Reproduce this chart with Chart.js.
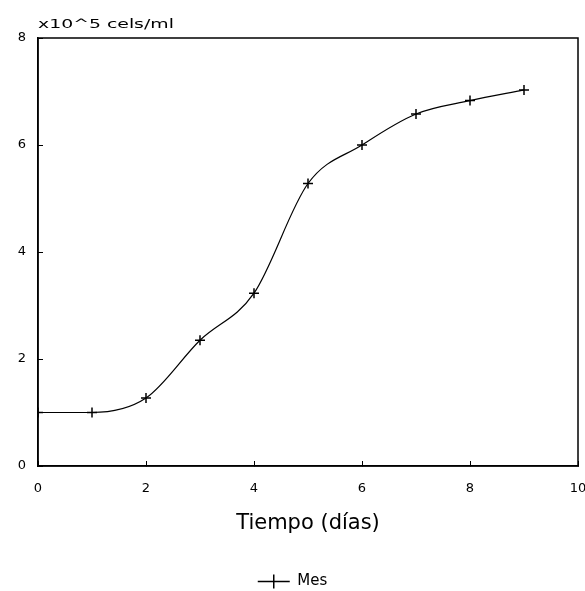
<!DOCTYPE html>
<html><head><meta charset="utf-8">
<script src="https://cdn.jsdelivr.net/npm/chart.js@4/dist/chart.umd.min.js"></script>
<style>html,body{margin:0;padding:0;background:#fff}#wrap{width:585px;height:591px}</style>
</head><body><div id="wrap"><canvas id="c" width="585" height="591"></canvas></div>
<script>
const days = [0, 1, 2, 3, 4, 5, 6, 7, 8, 9];
const cells = [1.0, 1.0, 1.27, 2.35, 3.23, 5.28, 6.0, 6.58, 6.83, 7.03];
const xTicks = [0, 2, 4, 6, 8, 10];
const yTicks = [0, 2, 4, 6, 8];
const seriesName = 'Mes';
const yUnit = 'x10^5 cels/ml';
const xTitle = 'Tiempo (días)';

const frame = {
  id: 'frame',
  afterDraw(chart) {
    const {ctx, chartArea: a} = chart;
    ctx.save();
    ctx.strokeStyle = '#000';
    ctx.lineWidth = 1.5;
    ctx.strokeRect(a.left, a.top, a.right - a.left, a.bottom - a.top);
    ctx.fillStyle = '#000';
    ctx.font = '13px "DejaVu Sans", sans-serif';
    ctx.textBaseline = 'alphabetic';
    ctx.textAlign = 'left';
    ctx.translate(a.left, a.top - 10);
    ctx.scale(1.45, 1);
    ctx.fillText(yUnit, 0, 0);
    ctx.restore();
  }
};

new Chart(document.getElementById('c'), {
  type: 'line',
  data: {
    datasets: [{
      label: seriesName,
      data: days.map((d, i) => ({x: d, y: cells[i]})),
      borderColor: '#000',
      backgroundColor: '#000',
      borderWidth: 1.2,
      tension: 0.4,
      cubicInterpolationMode: 'monotone',
      pointStyle: 'cross',
      pointRadius: 5,
      pointBorderWidth: 1.5,
      pointBorderColor: '#000'
    }]
  },
  options: {
    responsive: false,
    animation: false,
    layout: {padding: {left: 0, right: 0, top: 38, bottom: -8}},
    plugins: {
      legend: {
        position: 'bottom',
        labels: {
          color: '#000',
          font: {size: 15, family: '"DejaVu Sans", sans-serif'},
          usePointStyle: true,
          pointStyle: 'cross',
          pointStyleWidth: 32,
          boxHeight: 10,
          padding: 3
        }
      },
      title: {display: false},
      tooltip: {enabled: false}
    },
    scales: {
      x: {
        type: 'linear', min: 0, max: 10,
        afterBuildTicks: s => { s.ticks = xTicks.map(v => ({value: v})); },
        afterFit: s => { s.paddingLeft = 4; s.paddingRight = 7; s.height = 105; },
        grid: {display: true, drawOnChartArea: false, tickLength: -5, color: '#000'},
        border: {display: true, color: '#000', width: 1.5},
        ticks: {color: '#000', font: {size: 13, family: '"DejaVu Sans", sans-serif'}, padding: 20, maxRotation: 0},
        title: {display: true, text: xTitle, color: '#000', font: {size: 21, family: '"DejaVu Sans", sans-serif'}, padding: {top: 0, bottom: 35}}
      },
      y: {
        min: 0, max: 8,
        afterBuildTicks: s => { s.ticks = yTicks.map(v => ({value: v})); },
        afterFit: s => { s.width = 38; },
        grid: {display: true, drawOnChartArea: false, tickLength: -5, color: '#000'},
        border: {display: true, color: '#000', width: 1.5},
        ticks: {color: '#000', font: {size: 13, family: '"DejaVu Sans", sans-serif'}, padding: 17}
      }
    }
  },
  plugins: [frame]
});
</script>
</body></html>
